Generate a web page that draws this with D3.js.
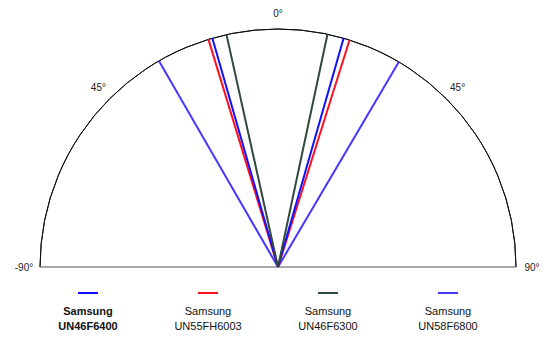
<!DOCTYPE html>
<html>
<head>
<meta charset="utf-8">
<script src="https://cdn.jsdelivr.net/npm/d3@7"></script>
<style>
  body { margin: 0; background: #fff; }
  svg { display: block; font-family: "Liberation Sans", Arial, sans-serif; }
</style>
</head>
<body>
<svg id="chart" width="552" height="343"></svg>
<script>
// viewing angle per TV, degrees from straight-on (left side negative)
const models = ["Samsung|UN46F6400", "Samsung|UN55FH6003", "Samsung|UN46F6300", "Samsung|UN58F6800"];
const leftAngles = [-16, -17, -12.5, -30];
const rightAngles = [16, 17.5, 12, 30.5];
const colors = ["#1010ff", "#ff1020", "#2f4a3c", "#4636ff"];
const tickValues = [-90, -45, 0, 45, 90];
const tickLabels = ["-90°", "45°", "0°", "45°", "90°"];

const svg = d3.select("#chart"),
    cx = 278, cy = 267, radius = 238;

const angle = d3.scaleLinear().domain([-90, 90]).range([-Math.PI / 2, Math.PI / 2]);
const r = d3.scaleLinear().domain([0, 1]).range([0, radius]);

const g = svg.append("g").attr("transform", "translate(" + cx + "," + cy + ")");

// outer half circle
g.append("path")
    .attr("d", d3.arc()({ innerRadius: radius, outerRadius: radius, startAngle: angle(-90), endAngle: angle(90) }))
    .attr("fill", "none")
    .attr("stroke", "#111")
    .attr("stroke-width", 1);

// base line
g.append("line")
    .attr("x1", -radius).attr("x2", radius)
    .attr("y1", 0).attr("y2", 0)
    .attr("stroke", "#555")
    .attr("stroke-width", 1.2);

// angle labels
g.selectAll(".tick")
    .data(tickValues)
    .enter().append("text")
    .attr("class", "tick")
    .attr("x", d => Math.sin(angle(d)) * (radius + 16))
    .attr("y", d => -Math.cos(angle(d)) * (radius + 16))
    .attr("dy", "0.35em")
    .attr("text-anchor", "middle")
    .attr("font-size", "10px")
    .attr("fill", "#222")
    .text((d, i) => tickLabels[i]);

// viewing angle lines
const ray = d3.lineRadial()
    .angle(d => angle(d.a))
    .radius(d => r(d.v));

const rays = [];
models.forEach((m, i) => {
    rays.push({ i: i, a: leftAngles[i] });
    rays.push({ i: i, a: rightAngles[i] });
});
// wide ones first so narrow ones sit on top
rays.sort((p, q) => Math.abs(q.a) - Math.abs(p.a));

g.selectAll(".ray")
    .data(rays)
    .enter().append("path")
    .attr("class", "ray")
    .attr("d", d => ray([{ a: d.a, v: 0 }, { a: d.a, v: 1 }]))
    .attr("fill", "none")
    .attr("stroke", d => colors[d.i])
    .attr("stroke-width", 2);

// legend
const legendX = d3.scalePoint().domain(d3.range(models.length)).range([88, 448]);
const legend = svg.selectAll(".legend")
    .data(models)
    .enter().append("g")
    .attr("class", "legend")
    .attr("transform", (d, i) => "translate(" + legendX(i) + ",0)");

legend.append("line")
    .attr("x1", -10).attr("x2", 10)
    .attr("y1", 293).attr("y2", 293)
    .attr("stroke", (d, i) => colors[i])
    .attr("stroke-width", 2);

legend.each(function (d, i) {
    const parts = d.split("|");
    const t = d3.select(this).append("text")
        .attr("text-anchor", "middle")
        .attr("font-size", "11px")
        .attr("font-weight", i === 0 ? "bold" : "normal")
        .attr("fill", "#111");
    t.append("tspan").attr("x", 0).attr("y", 315).text(parts[0]);
    t.append("tspan").attr("x", 0).attr("y", 330).text(parts[1]);
});
</script>
</body>
</html>
